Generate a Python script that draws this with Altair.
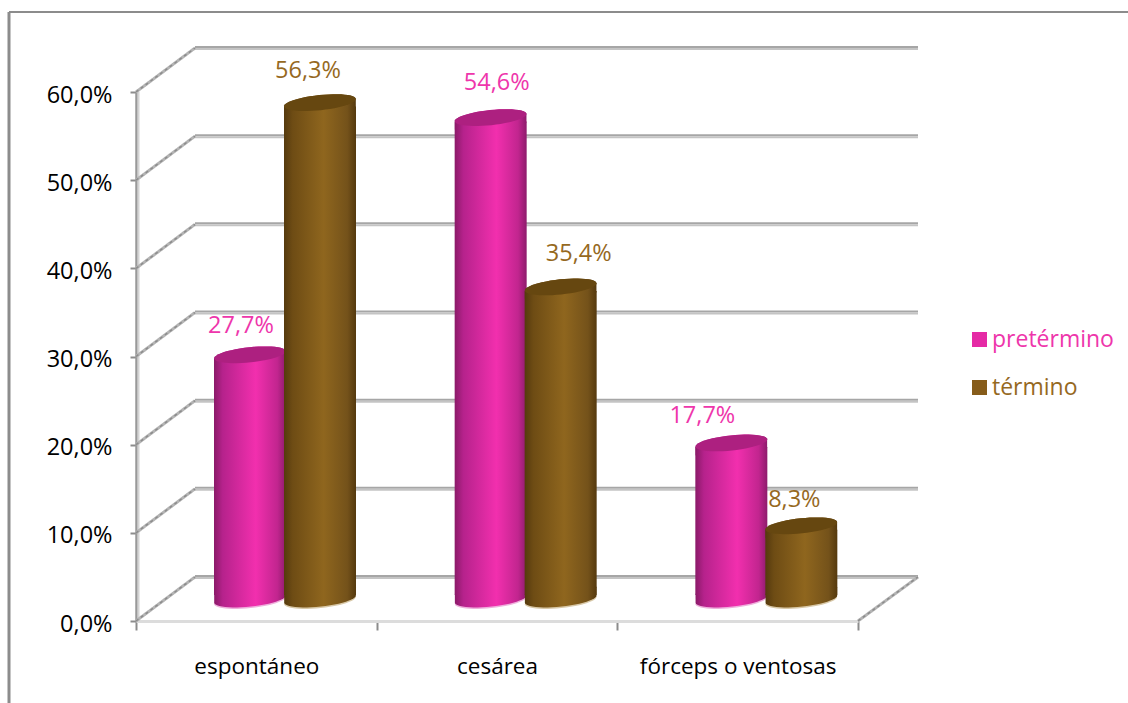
import math
import altair as alt
import pandas as pd

# Chart values
categorias = ["espontáneo", "cesárea", "fórceps o ventosas"]
series = ["pretérmino", "término"]
pretermino = [27.7, 54.6, 17.7]
termino = [56.3, 35.4, 8.3]
ticks_y = [0, 10, 20, 30, 40, 50, 60]

FONT = "Open Sans"
TEXT_PINK = "#ee36ab"
TEXT_BROWN = "#96691f"
LEGEND_PINK = "#e52aa5"
LEGEND_BROWN = "#865c1a"

# Projection of the 3D box and of the cylinders, in pixels
DEPTH_X, DEPTH_Y = 59, -44
MID_Y = -22
BODY = 72
TILT = math.radians(-6)
SQUASH = 0.21
SWEEP = 8 / 36


def ellipse_points(n=48):
    """Outline of a unit cylinder cap, tilted, as (x, y) pairs."""
    pts = []
    for i in range(n):
        t = 2 * math.pi * i / n
        ex, ey = math.cos(t), SQUASH * math.sin(t)
        pts.append((ex * math.cos(TILT) - ey * math.sin(TILT),
                    ex * math.sin(TILT) + ey * math.cos(TILT)))
    return pts


def to_path(pts):
    body = "L".join(f"{x:.4f},{y:.4f}" for x, y in pts)
    return f"M{body}Z"


def cap_path():
    return to_path(ellipse_points())


def collar_path(shift):
    """Cap swept vertically by `shift`, joining a cap to the straight body."""
    pts = ellipse_points()
    right = max(range(len(pts)), key=lambda i: pts[i][0])
    left = min(range(len(pts)), key=lambda i: pts[i][0])
    ordered = pts[right:] + pts[:right]
    split = (left - right) % len(pts)
    # lower arc carries the shift when it is positive, upper arc when negative
    lower = ordered[:split + 1]
    upper = ordered[split:] + ordered[:1]
    low = [(x, y + max(shift, 0)) for x, y in lower]
    up = [(x, y + min(shift, 0)) for x, y in upper]
    return to_path(low + up)


def cyl_gradient(stops):
    return alt.Gradient(
        gradient="linear", x1=0, x2=1, y1=0, y2=0,
        stops=[alt.GradientStop(offset=o, color=c) for o, c in stops],
    )


PINK_GRAD = cyl_gradient([(0, "#8a1a68"), (0.12, "#b6228c"), (0.58, "#f22fae"),
                          (0.88, "#c2258f"), (1, "#8e1b6c")])
BROWN_GRAD = cyl_gradient([(0, "#553a0e"), (0.12, "#6e4c14"), (0.55, "#8f661e"),
                           (0.88, "#74521a"), (1, "#55390e")])
STYLE = {
    "pretérmino": dict(grad=PINK_GRAD, cap="#ad2080", rim="#eeb0dc"),
    "término": dict(grad=BROWN_GRAD, cap="#664710", rim="#d8c8a8"),
}

df = pd.DataFrame(
    [{"categoria": c, "serie": series[0], "valor": v} for c, v in zip(categorias, pretermino)]
    + [{"categoria": c, "serie": series[1], "valor": v} for c, v in zip(categorias, termino)]
)
grid = pd.DataFrame({"nivel": ticks_y})
one = pd.DataFrame({"nivel": [0]})

x_axis = alt.Axis(
    title=None, labelAngle=0, labelFont=FONT, labelFontSize=22.5, labelColor="#000000",
    labelPadding=25, labelLimit=400, domainColor="#dcdcdc", domainWidth=3, tickColor="#8c8c8c",
    tickWidth=2, tickSize=9, tickBand="extent", grid=False,
)
y_axis = alt.Axis(
    title=None, values=ticks_y, labelFont=FONT, labelFontSize=23.5, labelColor="#000000",
    labelPadding=18, labelOffset=3, domainColor="#999999", domainWidth=2.5, tickColor="#8c8c8c",
    tickWidth=2, tickSize=6, grid=False,
    labelExpr="replace(format(datum.value, '.1f'), '.', ',') + '%'",
)
x_scale = alt.Scale(domain=categorias, paddingInner=0, paddingOuter=0)
y_scale = alt.Scale(domain=[0, 60], nice=False)
offset_scale = alt.Scale(domain=series, range=[79, 219], paddingInner=0, paddingOuter=0)

# Every layer shares one pair of scales and one pair of axes
X = alt.X("categoria:N", scale=x_scale, axis=x_axis)
XO = alt.XOffset("serie:N", scale=offset_scale)
Y = alt.Y("valor:Q", scale=y_scale, axis=y_axis)
ZERO = alt.Y("cero:Q", scale=y_scale, axis=y_axis)
GY = alt.Y("nivel:Q", scale=y_scale, axis=y_axis)
GY2 = alt.Y2("nivel:Q")

layers = []

# Pale edge beside the vertical axis
layers.append(
    alt.Chart(pd.DataFrame({"nivel": [ticks_y[0]], "tope": [ticks_y[-1]]}))
    .mark_rule(color="#d4d4d4", strokeWidth=2)
    .encode(x=alt.value(2.5), y=GY, y2=alt.Y2("tope:Q"))
)

# Back wall gridlines, two-tone
for tone, shift, w in (("#a6a6a6", -1, 2), ("#c4c4c4", 1, 2)):
    layers.append(
        alt.Chart(grid).mark_rule(color=tone, strokeWidth=w, yOffset=DEPTH_Y + shift).encode(
            x=alt.value(DEPTH_X), x2=alt.value(782), y=GY
        )
    )

# Side wall edges
for tone, w, dash in (("#b4b4b4", 3, [1, 0]), ("#8c8c8c", 1.5, [3, 3])):
    layers.append(
        alt.Chart(grid).mark_rule(color=tone, strokeWidth=w, strokeDash=dash, y2Offset=DEPTH_Y).encode(
            x=alt.value(0), x2=alt.value(DEPTH_X), y=GY, y2=GY2
        )
    )
    # right edge of the floor
    layers.append(
        alt.Chart(one).mark_rule(color=tone, strokeWidth=w, strokeDash=dash, y2Offset=DEPTH_Y).encode(
            x=alt.value(722), x2=alt.value(782), y=GY, y2=GY2
        )
    )

# Cylinders
for name in series:
    st = STYLE[name]
    sub = alt.Chart(df).transform_filter(alt.datum.serie == name).transform_calculate(cero="0")
    layers.append(
        sub.mark_point(shape=cap_path(), size=BODY * BODY, filled=True, fill=st["rim"],
                       strokeWidth=0, opacity=1, yOffset=MID_Y + 1.5).encode(x=X, xOffset=XO, y=ZERO)
    )
    layers.append(
        sub.mark_point(shape=collar_path(-SWEEP), size=BODY * BODY, filled=True, fill=st["grad"],
                       strokeWidth=0, opacity=1, yOffset=MID_Y).encode(x=X, xOffset=XO, y=ZERO)
    )
    layers.append(
        sub.mark_bar(width=BODY, fill=st["grad"], yOffset=MID_Y + 4, y2Offset=MID_Y - 4).encode(
            x=X, xOffset=XO, y=Y, y2=alt.Y2("cero:Q")
        )
    )
    layers.append(
        sub.mark_point(shape=collar_path(SWEEP), size=BODY * BODY, filled=True, fill=st["grad"],
                       strokeWidth=0, opacity=1, yOffset=MID_Y).encode(x=X, xOffset=XO, y=Y)
    )
    layers.append(
        sub.mark_point(shape=cap_path(), size=BODY * BODY, filled=True, fill=st["cap"],
                       strokeWidth=0, opacity=1, yOffset=MID_Y).encode(x=X, xOffset=XO, y=Y)
    )

# Value labels sit beside the cylinder tops, each nudged clear of its neighbour
label_nudges = {
    ("espontáneo", "pretérmino"): (-9, -29),
    ("espontáneo", "término"): (-12, -32),
    ("cesárea", "pretérmino"): (6, -35),
    ("cesárea", "término"): (18, -33),
    ("fórceps o ventosas", "pretérmino"): (-29, -27),
    ("fórceps o ventosas", "término"): (-7, -26),
}
for (cat, name), (dx, dy) in label_nudges.items():
    color = TEXT_PINK if name == series[0] else TEXT_BROWN
    layers.append(
        alt.Chart(df)
        .transform_filter((alt.datum.serie == name) & (alt.datum.categoria == cat))
        .transform_calculate(texto="replace(format(datum.valor, '.1f'), '.', ',') + '%'")
        .mark_text(font=FONT, fontSize=23.5, color=color, baseline="middle", dx=dx,
                   dy=dy + MID_Y, align="center")
        .encode(x=X, xOffset=XO, y=Y, text="texto:N")
    )

# Legend carrier
layers.append(
    alt.Chart(df).mark_point(opacity=0, filled=True).encode(
        x=X, y=Y,
        color=alt.Color(
            "serie:N",
            scale=alt.Scale(domain=series, range=[LEGEND_PINK, LEGEND_BROWN]),
            legend=alt.Legend(
                title=None, orient="none", legendX=832, legendY=236, symbolType="square",
                symbolSize=225, symbolOpacity=1, symbolStrokeWidth=0, rowPadding=24,
                labelFont=FONT, labelFontSize=23, labelOffset=1,
                labelColor=alt.ExprRef(f"datum.value == '{series[0]}' ? '{TEXT_PINK}' : '{TEXT_BROWN}'"),
            ),
        ),
    )
)

# Outer frame of the picture
FRAME = "#8c8c8c"
layers.append(
    alt.Chart(one).mark_rule(color=FRAME, strokeWidth=3).encode(
        x=alt.value(-127), y=alt.value(-80), y2=alt.value(611)
    )
)
layers.append(
    alt.Chart(one).mark_rule(color=FRAME, strokeWidth=2).encode(
        x=alt.value(-127), x2=alt.value(992), y=alt.value(-80)
    )
)

chart = (
    alt.layer(*layers)
    .properties(
        width=722, height=529,
        padding={"left": 136, "top": 92, "right": 270, "bottom": 82},
        autosize=alt.AutoSizeParams(type="none"),
        background="#ffffff",
    )
    .configure_view(stroke=None)
)

chart.save("out.html", embed_options={"renderer": "svg", "actions": False})
